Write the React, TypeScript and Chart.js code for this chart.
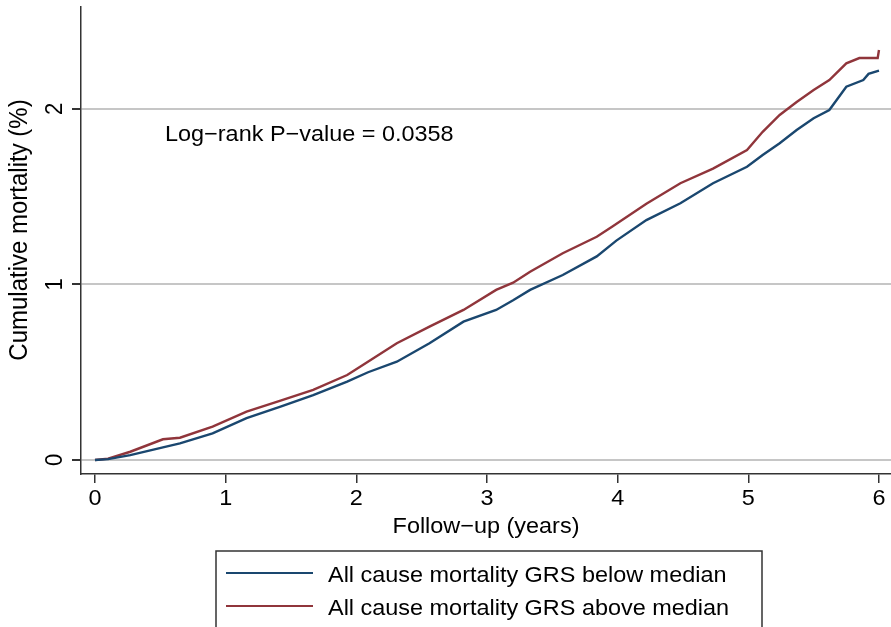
import React, { useEffect, useRef } from "react";
import { Chart, registerables } from "chart.js";

Chart.register(...registerables);

// ---- Data ----
const belowTimes = [0, 0.1, 0.27, 0.52, 0.65, 0.9, 1.16, 1.42, 1.67, 1.93, 2.09, 2.31, 2.56, 2.82, 3.07, 3.2, 3.33, 3.58, 3.84, 3.99, 4.22, 4.48, 4.73, 4.99, 5.11, 5.24, 5.37, 5.5, 5.62, 5.75, 5.88, 5.92, 6.0];
const belowValues = [0, 0.005, 0.028, 0.072, 0.095, 0.152, 0.238, 0.304, 0.37, 0.446, 0.5, 0.56, 0.665, 0.788, 0.855, 0.91, 0.969, 1.054, 1.16, 1.25, 1.367, 1.463, 1.577, 1.671, 1.738, 1.805, 1.88, 1.947, 1.994, 2.127, 2.165, 2.2, 2.218];

const aboveTimes = [0, 0.1, 0.27, 0.52, 0.65, 0.9, 1.16, 1.42, 1.67, 1.93, 2.05, 2.31, 2.56, 2.82, 3.07, 3.2, 3.33, 3.58, 3.84, 3.96, 4.22, 4.48, 4.73, 4.99, 5.11, 5.24, 5.37, 5.5, 5.62, 5.75, 5.85, 5.99, 6.0];
const aboveValues = [0, 0.008, 0.047, 0.118, 0.127, 0.19, 0.275, 0.338, 0.399, 0.484, 0.541, 0.665, 0.76, 0.855, 0.969, 1.01, 1.073, 1.178, 1.272, 1.33, 1.46, 1.577, 1.66, 1.766, 1.87, 1.966, 2.04, 2.108, 2.165, 2.26, 2.29, 2.29, 2.336];

const seriesLabels = ["All cause mortality GRS below median", "All cause mortality GRS above median"];
const seriesColors = ["#1a476f", "#90353b"];

const xTickValues = [0, 1, 2, 3, 4, 5, 6];
const yTickValues = [0, 1, 2];
const xTitle = "Follow\u2212up (years)";
const yTitle = "Cumulative mortality (%)";
const annotationText = "Log\u2212rank P\u2212value = 0.0358";
const annotationX = 0.536;
const annotationY = 1.863;

// ---- Style ----
const FONT_FAMILY = '"Liberation Sans", Arial, Helvetica, sans-serif';
const FONT_SIZE = 22;
const STRETCH = 1.065;
const TEXT_COLOR = "#000000";
const AXIS_COLOR = "#333333";

function drawText(
  ctx: CanvasRenderingContext2D,
  text: string,
  x: number,
  y: number,
  align: CanvasTextAlign,
  rotate: boolean,
  size: number = FONT_SIZE
) {
  ctx.save();
  ctx.translate(x, y);
  ctx.scale(STRETCH, 1);
  if (rotate) ctx.rotate(-Math.PI / 2);
  ctx.font = `${size}px ${FONT_FAMILY}`;
  ctx.fillStyle = TEXT_COLOR;
  ctx.textAlign = align;
  ctx.textBaseline = "alphabetic";
  ctx.fillText(text, 0, 0);
  ctx.restore();
}

const textPlugin = {
  id: "stataText",
  afterDraw(chart: any) {
    const ctx: CanvasRenderingContext2D = chart.ctx;
    const xs = chart.scales.x;
    const ys = chart.scales.y;
    const area = chart.chartArea;

    // y tick labels (rotated)
    yTickValues.forEach((v) => {
      drawText(ctx, String(v), 62, ys.getPixelForValue(v), "center", true);
    });
    // y title
    drawText(ctx, yTitle, 27, 230, "center", true, 24);

    // x tick labels
    xTickValues.forEach((v) => {
      drawText(ctx, String(v), xs.getPixelForValue(v), area.bottom + 31, "center", false);
    });
    // x title
    drawText(ctx, xTitle, (area.left + area.right) / 2, area.bottom + 59, "center", false);

    // annotation
    drawText(ctx, annotationText, xs.getPixelForValue(annotationX), ys.getPixelForValue(annotationY) + 8, "left", false);

    // legend box
    const boxLeft = 216;
    const boxTop = 551;
    const boxRight = 762;
    ctx.save();
    ctx.strokeStyle = AXIS_COLOR;
    ctx.lineWidth = 1.5;
    ctx.beginPath();
    ctx.moveTo(boxLeft, chart.height + 5);
    ctx.lineTo(boxLeft, boxTop);
    ctx.lineTo(boxRight, boxTop);
    ctx.lineTo(boxRight, chart.height + 5);
    ctx.stroke();
    ctx.restore();

    chart.data.datasets.forEach((ds: any, i: number) => {
      const cy = 573 + i * 33;
      ctx.save();
      ctx.strokeStyle = ds.borderColor;
      ctx.lineWidth = 2;
      ctx.beginPath();
      ctx.moveTo(226, cy);
      ctx.lineTo(313, cy);
      ctx.stroke();
      ctx.restore();
      drawText(ctx, ds.label, 328, cy + 9, "left", false);
    });
  },
};

export default function App() {
  const canvasRef = useRef<HTMLCanvasElement | null>(null);

  useEffect(() => {
    const canvas = canvasRef.current;
    if (!canvas) return;

    const toPoints = (ts: number[], vs: number[]) => ts.map((t, i) => ({ x: t, y: vs[i] }));

    const chart = new Chart(canvas, {
      type: "line",
      data: {
        datasets: [
          {
            label: seriesLabels[0],
            data: toPoints(belowTimes, belowValues),
            borderColor: seriesColors[0],
            backgroundColor: seriesColors[0],
            borderWidth: 2.4,
            pointRadius: 0,
            tension: 0,
            fill: false,
          },
          {
            label: seriesLabels[1],
            data: toPoints(aboveTimes, aboveValues),
            borderColor: seriesColors[1],
            backgroundColor: seriesColors[1],
            borderWidth: 2.4,
            pointRadius: 0,
            tension: 0,
            fill: false,
          },
        ],
      },
      options: {
        animation: false,
        responsive: false,
        devicePixelRatio: 1,
        events: [],
        layout: { padding: { left: 0, right: 0, top: 7, bottom: 0 } },
        plugins: {
          legend: { display: false },
          tooltip: { enabled: false },
          title: { display: false },
        },
        scales: {
          x: {
            type: "linear",
            min: -0.107,
            max: 6.092,
            afterBuildTicks: (s: any) => {
              s.ticks = xTickValues.map((v) => ({ value: v }));
            },
            afterFit: (s: any) => {
              s.height = 627 - 474 - 0;
            },
            ticks: { display: false },
            grid: {
              drawOnChartArea: false,
              drawTicks: true,
              tickLength: 9,
              tickColor: AXIS_COLOR,
              color: AXIS_COLOR,
              lineWidth: 1.5,
            },
            border: { display: true, color: AXIS_COLOR, width: 1.5 },
            title: { display: false },
          },
          y: {
            type: "linear",
            min: -0.0798,
            max: 2.581,
            afterBuildTicks: (s: any) => {
              s.ticks = yTickValues.map((v) => ({ value: v }));
            },
            afterFit: (s: any) => {
              s.width = 81;
            },
            ticks: { display: false },
            grid: {
              drawOnChartArea: true,
              drawTicks: true,
              tickLength: 9,
              tickColor: AXIS_COLOR,
              color: "#c6c6c6",
              lineWidth: 2,
            },
            border: { display: true, color: AXIS_COLOR, width: 1.5 },
            title: { display: false },
          },
        },
      },
      plugins: [textPlugin],
    } as any);

    return () => {
      chart.destroy();
    };
  }, []);

  return (
    <div style={{ position: "absolute", left: 0, top: 0, width: 891, height: 627, background: "#ffffff", overflow: "hidden" }}>
      <canvas ref={canvasRef} width={891} height={627} style={{ display: "block", width: 891, height: 627 }} />
    </div>
  );
}
